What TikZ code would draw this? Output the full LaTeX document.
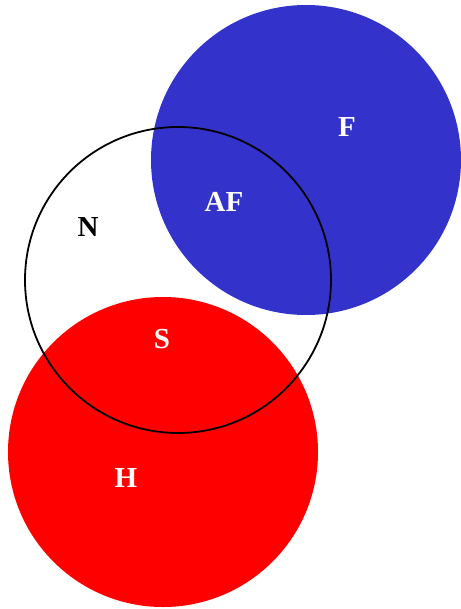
\documentclass[tikz,border=0pt]{standalone}
\usepackage{fontspec}
\setmainfont{Liberation Serif}
\definecolor{fblue}{RGB}{51,51,204}
\definecolor{hred}{RGB}{255,0,0}
\begin{document}
\begin{tikzpicture}[x=1pt,y=-1pt,
  lbl/.style={font=\fontsize{29}{29}\selectfont\bfseries, text=white, inner sep=0pt},
  disc/.style={circle, inner sep=0pt, minimum size=310pt}]
\useasboundingbox (0,0) rectangle (460,609);
\node[disc, fill=fblue] (F) at (306,160) {};
\node[disc, fill=hred] (H) at (163,452) {};
\node[disc, minimum size=306pt, draw=black, line width=1.8pt] (N) at (178,280) {};
\node[lbl] (lF) at (347,127) {F};
\node[lbl] (lAF) at (224,202) {AF};
\node[lbl, text=black] (lN) at (88,227) {N};
\node[lbl] (lS) at (162,339) {S};
\node[lbl] (lH) at (126,478) {H};
\end{tikzpicture}
\end{document}
